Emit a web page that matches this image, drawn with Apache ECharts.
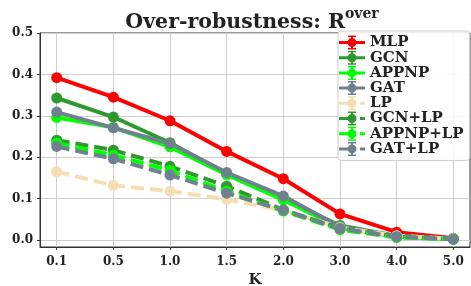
<!DOCTYPE html>
<html><head><meta charset="utf-8">
<script src="https://cdn.jsdelivr.net/npm/echarts@6/dist/echarts.min.js"></script>
<style>html,body{margin:0;padding:0;background:#fff}#c{width:471px;height:286px}</style>
</head><body><div id="c"></div>
<script>
const categories = ['0.1','0.5','1.0','1.5','2.0','3.0','4.0','5.0'];
const yTicks = [0, 0.1, 0.2, 0.3, 0.4, 0.5];
const MLP      = [0.392, 0.345, 0.288, 0.214, 0.148, 0.063, 0.019, 0.004];
const GCN      = [0.343, 0.297, 0.235, 0.160, 0.099, 0.035, 0.010, 0.003];
const APPNP    = [0.296, 0.272, 0.225, 0.158, 0.097, 0.030, 0.008, 0.002];
const GAT      = [0.309, 0.271, 0.233, 0.163, 0.106, 0.032, 0.010, 0.003];
const LP       = [0.165, 0.132, 0.118, 0.098, 0.072, 0.030, 0.010, 0.003];
const GCN_LP   = [0.241, 0.217, 0.178, 0.130, 0.073, 0.028, 0.008, 0.002];
const APPNP_LP = [0.234, 0.205, 0.168, 0.118, 0.070, 0.025, 0.006, 0.002];
const GAT_LP   = [0.226, 0.196, 0.157, 0.113, 0.072, 0.027, 0.008, 0.002];

const seriesDefs = [
  ['MLP', MLP, '#ff0000', false],
  ['GCN', GCN, '#2e9a2e', false],
  ['APPNP', APPNP, '#00ff00', false],
  ['GAT', GAT, '#708090', false],
  ['LP', LP, '#f5deb3', true],
  ['GCN+LP', GCN_LP, '#2e9a2e', true],
  ['APPNP+LP', APPNP_LP, '#00ff00', true],
  ['GAT+LP', GAT_LP, '#708090', true]
];
const serif = 'DejaVu Serif';
const iconSolid = 'path://M0 5.5H26V8.5H0Z M12 0H14V14H12Z M9 0H17V1.5H9Z M9 12.5H17V14H9Z M8.5 7A4.5 4.5 0 1 1 17.5 7A4.5 4.5 0 1 1 8.5 7Z';
const iconDash = 'path://M0 5.5H9V8.5H0Z M21 5.5H26V8.5H21Z M12 0H14V14H12Z M9 0H17V1.5H9Z M9 12.5H17V14H9Z M8.5 7A4.5 4.5 0 1 1 17.5 7A4.5 4.5 0 1 1 8.5 7Z';

const chart = echarts.init(document.getElementById('c'), null, {renderer:'canvas'});
chart.setOption({
  animation: false,
  backgroundColor: '#fff',
  title: {
    text: '{a|Over-robustness: R}{b|over}',
    left: 247, textAlign: 'center', top: 2,
    textStyle: {
      rich: {
        a: {fontFamily: serif, fontWeight: 'bold', fontSize: 20.5, color: '#222', verticalAlign: 'bottom', lineHeight: 26},
        b: {fontFamily: serif, fontWeight: 'bold', fontSize: 14, color: '#222', verticalAlign: 'top', lineHeight: 26, padding:[0,0,10,0]}
      }
    }
  },
  grid: {left: 40, right: 1, top: 33, bottom: 39, show: true, borderColor: '#333', borderWidth: 1, outerBoundsMode: 'none', containLabel: false},
  legend: {
    orient: 'vertical', left: 338, top: 31,
    padding: [4, 6, 4, 1], itemGap: 0.2, itemWidth: 26, itemHeight: 14,
    backgroundColor: 'rgba(255,255,255,0.85)', borderColor: '#ccc', borderWidth: 1, borderRadius: 3,
    textStyle: {fontFamily: serif, fontWeight: 'bold', fontSize: 15, color: '#222', lineHeight: 14},
    data: seriesDefs.map(d => ({name: d[0], icon: d[3] ? iconDash : iconSolid, itemStyle: {color: d[2]}}))
  },
  xAxis: {
    type: 'value', min: -0.295, max: 7.295,
    name: 'K', nameLocation: 'middle', nameGap: 25,
    nameTextStyle: {fontFamily: serif, fontWeight: 'bold', fontSize: 15, color: '#222'},
    axisLine: {show: true, onZero: false, lineStyle: {color: '#333', width: 1}},
    axisTick: {show: true, length: 3, lineStyle: {color: '#333'}, customValues: categories.map((c, i) => i)},
    axisLabel: {fontFamily: serif, fontWeight: 'bold', fontSize: 12, color: '#222', margin: 9,
      customValues: categories.map((c, i) => i), formatter: v => categories[Math.round(v)]},
    splitLine: {show: true, lineStyle: {color: '#cfcfcf', width: 1}}
  },
  yAxis: {
    type: 'value', min: -0.0169, max: 0.5,
    axisLine: {show: true, onZero: false, lineStyle: {color: '#333', width: 1}},
    axisTick: {show: true, length: 3, lineStyle: {color: '#333'}, customValues: yTicks},
    axisLabel: {fontFamily: serif, fontWeight: 'bold', fontSize: 12, color: '#222', margin: 7,
      customValues: yTicks, formatter: v => v.toFixed(1)},
    splitLine: {show: true, lineStyle: {color: '#cfcfcf', width: 1}}
  },
  series: seriesDefs.map(d => ({
    name: d[0], type: 'line',
    data: d[1].map((v, i) => [i, v]),
    symbol: 'circle', symbolSize: 11,
    itemStyle: {color: d[2]},
    lineStyle: {color: d[2], width: 4, type: d[3] ? [13, 6] : 'solid'},
    emphasis: {disabled: true}
  }))
});
</script></body></html>
